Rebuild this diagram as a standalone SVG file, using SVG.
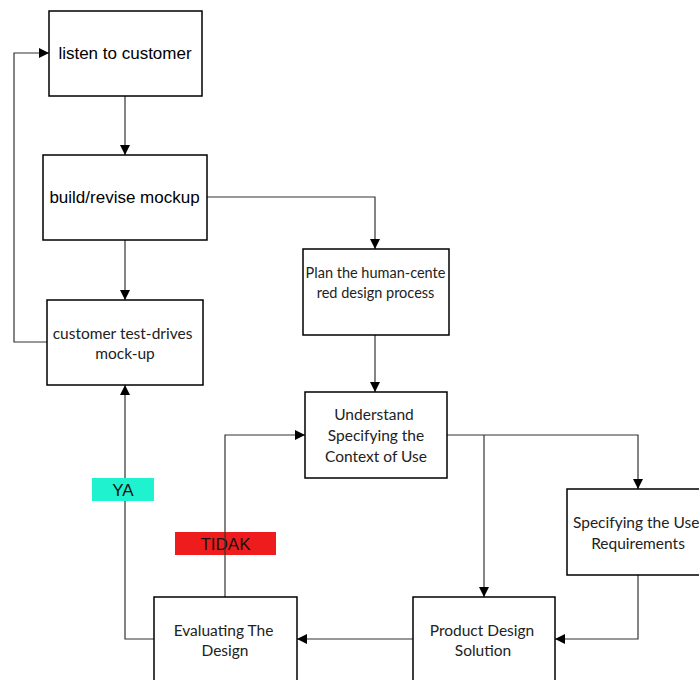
<svg xmlns="http://www.w3.org/2000/svg" width="699" height="680" viewBox="0 0 699 680">
<style>
.box{fill:#fff;stroke:#000;stroke-width:1.5}
.a{font-family:"Liberation Sans",Arial,sans-serif;font-size:17px;fill:#000;text-anchor:middle}
.c{font-family:Lato,"Open Sans",sans-serif;font-size:15.5px;fill:#222;text-anchor:middle}
.ln{fill:none;stroke:#333;stroke-width:1.2}
.lab{font-family:"Liberation Sans",Arial,sans-serif;font-size:17px;fill:#111;text-anchor:middle}
</style>
<defs>
<marker id="ar" viewBox="0 0 10 10" refX="10" refY="5" markerWidth="10" markerHeight="10" markerUnits="userSpaceOnUse" orient="auto">
<path d="M0,0 L10,5 L0,10 Z" fill="#000"/>
</marker>
</defs>
<rect width="699" height="680" fill="#fff"/>
<g id="labels-under">
<g id="tidak"><rect x="175" y="532" width="101" height="23" fill="#EE1C1C"/><text class="lab" x="225.5" y="550">TIDAK</text></g>
</g>
<g id="connectors">
<path class="ln" d="M125,96 V155" marker-end="url(#ar)"/>
<path class="ln" d="M125,240 V300" marker-end="url(#ar)"/>
<path class="ln" d="M47,342 H14 V53 H49" marker-end="url(#ar)"/>
<path class="ln" d="M207,197 H375 V249" marker-end="url(#ar)"/>
<path class="ln" d="M375,335 V392" marker-end="url(#ar)"/>
<path class="ln" d="M447,435 H638 V489" marker-end="url(#ar)"/>
<path class="ln" d="M484,435 V597" marker-end="url(#ar)"/>
<path class="ln" d="M638,575 V639 H555" marker-end="url(#ar)"/>
<path class="ln" d="M413,639 H297" marker-end="url(#ar)"/>
<path class="ln" d="M154,639 H125 V385" marker-end="url(#ar)"/>
<path class="ln" d="M225,597 V435 H305" marker-end="url(#ar)"/>
</g>
<g id="ya"><rect x="92" y="478" width="62" height="23" fill="#1EF2CF"/><text class="lab" x="123" y="496">YA</text></g>
<g id="listen"><rect class="box" x="49" y="11" width="153" height="85"/><text class="a" x="125" y="59">listen to customer</text></g>
<g id="build"><rect class="box" x="43" y="155" width="164" height="85"/><text class="a" x="124.5" y="203">build/revise mockup</text></g>
<g id="testdrive"><rect class="box" x="47" y="300" width="156" height="85"/><text class="c" x="122.5" y="338.5">customer test-drives</text><text class="c" x="125" y="358.5">mock-up</text></g>
<g id="plan"><rect class="box" x="303" y="249" width="146" height="86"/><text class="c" x="375.5" y="278" style="font-size:14.5px">Plan the human-cente</text><text class="c" x="375.5" y="298" style="font-size:14.5px">red design process</text></g>
<g id="understand"><rect class="box" x="305" y="392" width="142" height="86"/><text class="c" x="374" y="419.5">Understand</text><text class="c" x="376" y="440.5">Specifying the</text><text class="c" x="376" y="461.5">Context of Use</text></g>
<g id="userreq"><rect class="box" x="567" y="489" width="140" height="86"/><text class="c" x="639" y="527.5">Specifying the User</text><text class="c" x="638" y="548.5">Requirements</text></g>
<g id="product"><rect class="box" x="413" y="597" width="142" height="90"/><text class="c" x="482" y="635.5">Product Design</text><text class="c" x="483" y="655.5">Solution</text></g>
<g id="evaluate"><rect class="box" x="154" y="597" width="143" height="90"/><text class="c" x="223.5" y="635.5">Evaluating The</text><text class="c" x="225" y="655.5">Design</text></g>
</svg>
